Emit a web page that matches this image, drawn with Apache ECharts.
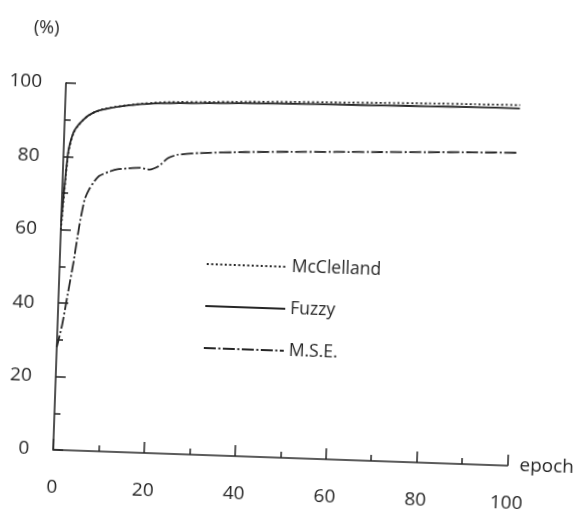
<!DOCTYPE html>
<html>
<head>
<meta charset="utf-8">
<script src="https://cdn.jsdelivr.net/npm/echarts@6/dist/echarts.min.js"></script>
<style>
    html, body { margin: 0; padding: 0; background: #fff; overflow: hidden; }
    /* the scanned figure sits about 2 degrees clockwise */
    #chart { width: 584px; height: 517px; transform: rotate(2deg); transform-origin: 50% 50%; }
</style>
</head>
<body>
<div id="chart"></div>
<script>
const epochs = [0, 1, 2, 3, 4, 5, 6, 7, 8, 10, 12, 14, 17, 19, 21, 23, 25, 30, 40, 50, 60, 70, 80, 90, 100];
const mcclelland = [60, 80.5, 86.3, 88.5, 90, 91.2, 92, 92.6, 93.1, 93.7, 94.2, 94.6, 95.1, 95.4, 95.6, 95.8, 95.9, 96.1, 96.6, 97, 97.3, 97.6, 97.9, 98.1, 98.3];
const fuzzy = [62, 81, 86.5, 88.6, 90, 91.2, 92, 92.6, 93, 93.6, 94.1, 94.5, 95, 95.2, 95.4, 95.5, 95.6, 95.8, 96.2, 96.5, 96.7, 96.9, 97.1, 97.3, 97.4];
const mse = [28, 34, 42.5, 51, 61, 68.5, 71.5, 73.5, 75, 76.2, 77, 77.3, 77.6, 77.2, 78.2, 80.5, 81.5, 82.2, 82.9, 83.4, 83.8, 84.2, 84.6, 85, 85.3];
const seriesNames = ['McClelland', 'Fuzzy', 'M.S.E.'];

const ink = '#262626';
const textInk = '#262626';
const font = '"Open Sans", "Noto Sans", sans-serif';

const chart = echarts.init(document.getElementById('chart'));

const pairs = vals => epochs.map((e, i) => [e, vals[i]]);

const lineSeries = (name, vals, dash) => ({
    name: name,
    type: 'line',
    symbol: 'none',
    smooth: 0.2,
    lineStyle: { color: ink, width: 1.8, type: dash },
    itemStyle: { color: ink },
    data: pairs(vals)
});

chart.setOption({
    backgroundColor: '#ffffff',
    animation: false,
    textStyle: { fontFamily: font },
    grid: { left: 60, right: 69, top: 91, bottom: 59 },
    legend: {
        orient: 'vertical',
        left: 201,
        top: 252,
        itemWidth: 80,
        itemHeight: 14,
        itemGap: 22,
        data: seriesNames,
        // only the line sample, no marker dot
        itemStyle: { opacity: 0 },
        textStyle: { fontSize: 17.5, color: textInk, fontFamily: font, lineHeight: 20 }
    },
    graphic: [{
        type: 'text',
        left: 26,
        top: 28,
        style: { text: '(%)', font: '18px ' + font, fill: textInk }
    }],
    xAxis: {
        type: 'value',
        min: 0,
        max: 100,
        interval: 20,
        name: 'epoch',
        nameLocation: 'end',
        nameGap: 12,
        nameTextStyle: { fontSize: 19, color: textInk, verticalAlign: 'middle' },
        axisLine: { lineStyle: { color: ink, width: 1.6 } },
        axisTick: { inside: true, length: 11, lineStyle: { color: ink, width: 1.5 } },
        minorTick: { show: true, splitNumber: 2, length: 6, lineStyle: { color: ink, width: 1.5 } },
        splitLine: { show: false },
        axisLabel: { fontSize: 19, color: textInk, margin: 28 }
    },
    yAxis: {
        type: 'value',
        min: 0,
        max: 100,
        interval: 20,
        axisLine: { show: true, lineStyle: { color: ink, width: 1.6 } },
        axisTick: { show: true, inside: true, length: 10, lineStyle: { color: ink, width: 1.5 } },
        minorTick: { show: true, splitNumber: 2, length: 6, lineStyle: { color: ink, width: 1.5 } },
        splitLine: { show: false },
        axisLabel: { fontSize: 19, color: textInk, margin: 24 }
    },
    series: [
        lineSeries('McClelland', mcclelland, [2, 2.5]),
        lineSeries('Fuzzy', fuzzy, 'solid'),
        lineSeries('M.S.E.', mse, [12, 2.5, 2, 2.5])
    ]
});
</script>
</body>
</html>
